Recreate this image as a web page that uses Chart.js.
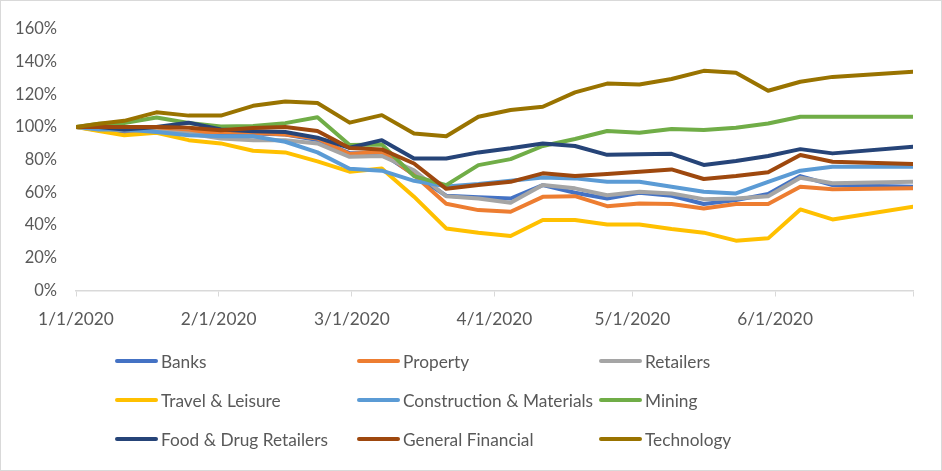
<!DOCTYPE html>
<html>
<head>
<meta charset="utf-8">
<script src="https://cdn.jsdelivr.net/npm/chart.js@4.4.1/dist/chart.umd.min.js"></script>
<style>
  body { margin: 0; background: #fff; }
  #wrap { position: relative; width: 942px; height: 471px; box-sizing: border-box; border: 1px solid #d9d9d9; font-family: Lato, sans-serif; }
  #chart { position: absolute; left: 0; top: 0; }
  .item { position: absolute; display: flex; align-items: center; font-size: 17.3px; color: #595959; white-space: nowrap; }
  .swatch { width: 43px; height: 4px; border-radius: 2px; margin-right: 3px; }
</style>
</head>
<body>
<div id="wrap">
  <canvas id="chart" width="940" height="469"></canvas>
  <div id="legend"></div>
</div>
<script>
// Days since 1/1/2020 for each weekly reading
const days = [0, 5, 10.5, 17.5, 24.5, 31.5, 38.5, 45.5, 52.5, 59.5, 66.5, 73.5, 80.5,
  87.5, 94.5, 101.5, 108.5, 115.5, 122.5, 129.5, 136.5, 143.5, 150.5, 157.5, 164.5, 182];

// Axis ticks (month starts) and their labels
const tickDays = [0, 31, 60, 91, 121, 152, 182];
const tickLabels = ['1/1/2020', '2/1/2020', '3/1/2020', '4/1/2020', '5/1/2020', '6/1/2020', ''];
const yTicks = [0, 20, 40, 60, 80, 100, 120, 140, 160];

// Sector indices, % of 1/1/2020 level
const banks = [100, 98, 97, 97, 97, 96, 96, 95.5, 92, 84, 84, 71, 58, 57, 56.3, 64.5, 59.8, 56.3, 59.8, 58, 52.9, 55.3, 59, 70, 64.5, 63.5];
const property = [100, 99, 98, 98, 97, 97, 96.5, 95.5, 93, 83.5, 84.9, 70.6, 53.1, 49.2, 48.2, 57.3, 57.7, 51.6, 53.3, 52.9, 50.2, 52.9, 52.9, 63.5, 61.9, 62.5];
const retailers = [100, 99, 98, 97.5, 96, 93, 92, 92, 90, 81.8, 82.3, 73.6, 57.7, 56.3, 53.7, 64.5, 62.5, 58.3, 60.4, 59.4, 55.9, 56.3, 57.7, 69, 65.6, 66.5];
const travel = [100, 97.5, 95, 96.5, 92, 90, 85.5, 84.5, 79, 72.7, 74.7, 57.4, 38, 35.4, 33.3, 43.1, 43.1, 40.4, 40.4, 37.6, 35.4, 30.5, 31.9, 49.6, 43.5, 51.3];
const construction = [100, 98.5, 98.5, 97, 95, 94.4, 94.4, 91, 84.5, 74.5, 73.3, 67.1, 63.7, 65.1, 67.1, 69.2, 68.6, 66.5, 66.5, 63.5, 60.4, 59.4, 66.5, 73.3, 75.7, 75.7];
const mining = [100, 102, 102.5, 105.8, 102.5, 100.3, 100.6, 102.4, 106, 89, 89.4, 70, 64.5, 76.7, 80.4, 88.4, 92.7, 97.6, 96.5, 98.8, 98.2, 99.6, 102.2, 106.3, 106.3, 106.3];
const foodDrug = [100, 100, 98.5, 100, 102.7, 98.5, 97.5, 97, 93.5, 87.3, 92, 80.8, 80.8, 84.5, 87, 90, 88.4, 83, 83.3, 83.6, 76.8, 79.2, 82.3, 86.5, 83.9, 88];
const generalFinancial = [100, 100, 100, 100, 99.6, 98, 99.4, 100, 97.6, 87.2, 86.3, 77.7, 62.2, 64.5, 66.5, 71.7, 70, 71.3, 72.7, 74.1, 68.2, 70, 72.3, 82.9, 78.8, 77.4];
const technology = [100, 102, 103.8, 109, 107, 107, 113, 115.7, 114.7, 102.7, 107.3, 96, 94.4, 106.3, 110.4, 112.4, 121.2, 126.6, 126, 129.4, 134.4, 133.2, 122.2, 127.7, 130.7, 133.8];

const seriesNames = ['Banks', 'Property', 'Retailers', 'Travel & Leisure', 'Construction & Materials',
  'Mining', 'Food & Drug Retailers', 'General Financial', 'Technology'];
const seriesValues = [banks, property, retailers, travel, construction, mining, foodDrug, generalFinancial, technology];
const seriesColors = ['#4472C4', '#ED7D31', '#A5A5A5', '#FFC000', '#5B9BD5', '#70AD47', '#264478', '#9E480E', '#997300'];

const datasets = seriesNames.map((name, i) => ({
  label: name,
  data: seriesValues[i].map((v, j) => ({ x: days[j], y: v })),
  borderColor: seriesColors[i],
  backgroundColor: seriesColors[i],
  borderWidth: 4,
  pointRadius: 0,
  borderCapStyle: 'round',
  borderJoinStyle: 'round',
  tension: 0,
  // later series drawn on top, as in the original
  order: seriesNames.length - i
}));

const chart = new Chart('chart', {
  type: 'line',
  data: { datasets: datasets },
  options: {
    responsive: false,
    animation: false,
    layout: { padding: { left: 9, right: 28, top: 28, bottom: 139.5 } },
    plugins: { legend: { display: false }, tooltip: { enabled: false } },
    scales: {
      x: {
        type: 'linear',
        min: 0,
        max: 182,
        afterFit: s => { s.height = 40; },
        afterBuildTicks: s => { s.ticks = tickDays.map(v => ({ value: v })); },
        ticks: {
          autoSkip: false,
          maxRotation: 0,
          padding: 13,
          color: '#595959',
          font: { family: 'Lato', size: 17.3 },
          callback: v => tickLabels[tickDays.indexOf(v)]
        },
        grid: { drawOnChartArea: false, drawTicks: true, tickLength: 6, color: '#d9d9d9' },
        border: { display: true, color: '#d9d9d9', width: 1.5 }
      },
      y: {
        min: 0,
        max: 160,
        afterFit: s => { s.width = 66; },
        afterBuildTicks: s => { s.ticks = yTicks.map(v => ({ value: v })); },
        ticks: {
          padding: 11,
          color: '#595959',
          font: { family: 'Lato', size: 16.5 },
          callback: v => v + '%'
        },
        grid: { display: false },
        border: { display: false }
      }
    }
  }
});

// Legend in three columns, built from the chart's datasets
const colX = [114, 356, 598];
const rowY = [360, 399, 438];
const legend = document.getElementById('legend');
chart.data.datasets.forEach((ds, i) => {
  const item = document.createElement('div');
  item.className = 'item';
  item.style.left = colX[i % 3] + 'px';
  item.style.top = (rowY[Math.floor(i / 3)] - 11) + 'px';
  item.style.height = '22px';
  const sw = document.createElement('span');
  sw.className = 'swatch';
  sw.style.background = ds.borderColor;
  const txt = document.createElement('span');
  txt.textContent = ds.label;
  item.appendChild(sw);
  item.appendChild(txt);
  legend.appendChild(item);
});
</script>
</body>
</html>
